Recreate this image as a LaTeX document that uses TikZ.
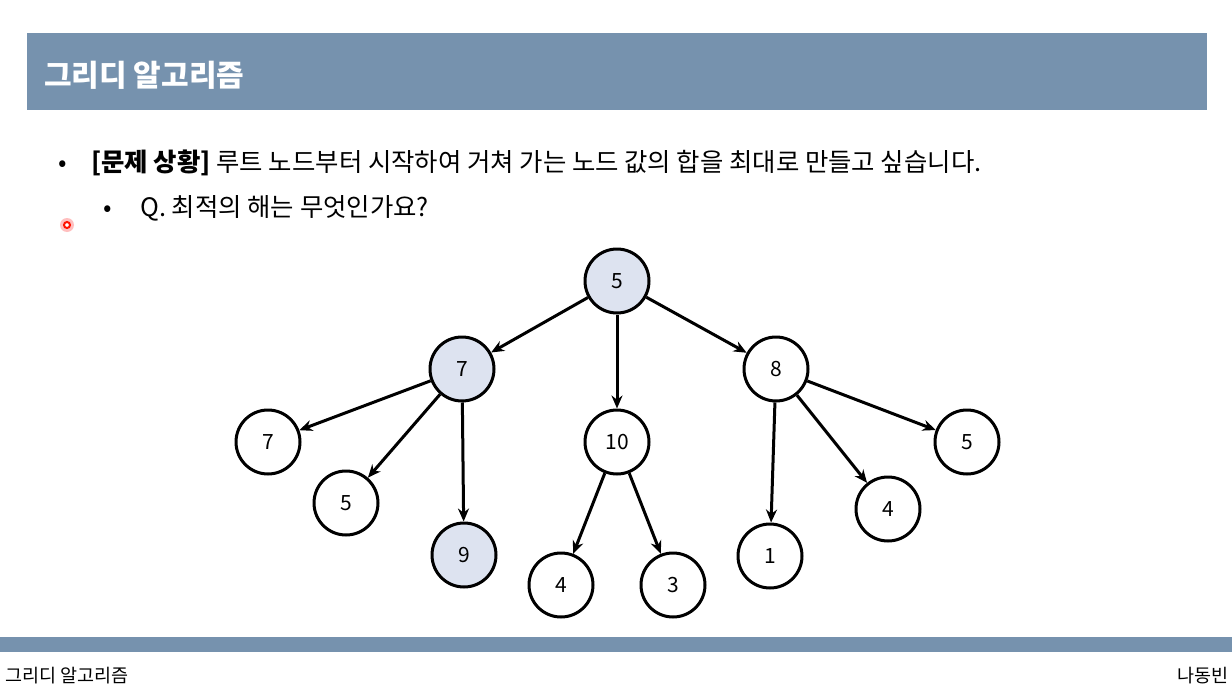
\documentclass[tikz,border=0pt]{standalone}
\usepackage{fontspec}
\setmainfont{Noto Sans CJK KR}
\usetikzlibrary{arrows.meta}
\definecolor{barblue}{HTML}{7692AE}
\definecolor{nodefill}{HTML}{DDE3F0}
\tikzset{
  tn/.style={circle,draw=black,line width=3pt,minimum size=64pt,inner sep=0pt,fill=white,font=\fontsize{21}{25}\selectfont},
  hl/.style={fill=nodefill},
  edge/.style={line width=3pt,-{Stealth[length=13pt,width=11pt]}},
  bul/.style={anchor=base,inner sep=0pt,font=\fontsize{25}{30}\selectfont},
  body/.style={anchor=base west,inner sep=0pt,font=\fontsize{25.4}{30}\selectfont}
}
\begin{document}
\begin{tikzpicture}[x=1pt,y=-1pt]
\useasboundingbox (0,0) rectangle (1232,696);
\fill[white] (0,0) rectangle (1232,696);
% header
\fill[barblue] (27,33) rectangle (1207,110);
\node[anchor=base west,text=white,font=\fontsize{30}{36}\selectfont\bfseries,inner sep=0pt] (title) at (44,86) {그리디 알고리즘};
% bullets
\node[bul] (b1) at (63,171) {•};
\node[body] (t1) at (91,171) {\textbf{[문제 상황]} 루트 노드부터 시작하여 거쳐 가는 노드 값의 합을 최대로 만들고 싶습니다.};
\node[bul] (b2) at (108,216) {•};
\node[body] (t2) at (140,216) {Q. 최적의 해는 무엇인가요?};
% pointer dot
\fill[red!25] (67,225) circle (7pt);
\draw[red!85!orange,line width=2pt,fill=white] (67,225) circle (3pt);
% nodes
\node[tn,hl] (r) at (617,281) {5};
\node[tn,hl] (a) at (462,369) {7};
\node[tn] (b) at (617,442) {10};
\node[tn] (c) at (776,369) {8};
\node[tn] (a1) at (268,442) {7};
\node[tn] (a2) at (346,503) {5};
\node[tn,hl] (a3) at (464,555) {9};
\node[tn] (b1n) at (561,585) {4};
\node[tn] (b2n) at (673,585) {3};
\node[tn] (c1) at (770,556) {1};
\node[tn] (c2) at (888,509) {4};
\node[tn] (c3) at (967,442) {5};
% edges
\draw[edge] (r) -- (a);
\draw[edge] (r) -- (b);
\draw[edge] (r) -- (c);
\draw[edge] (a) -- (a1);
\draw[edge] (a) -- (a2);
\draw[edge] (a) -- (a3);
\draw[edge] (b) -- (b1n);
\draw[edge] (b) -- (b2n);
\draw[edge] (c) -- (c1);
\draw[edge] (c) -- (c2);
\draw[edge] (c) -- (c3);
% footer
\fill[barblue] (0,637) rectangle (1232,652);
\node[anchor=base west,inner sep=0pt,font=\fontsize{18.5}{22}\selectfont] (f1) at (5,682) {그리디 알고리즘};
\node[anchor=base east,inner sep=0pt,font=\fontsize{18.5}{22}\selectfont] (f2) at (1229,682) {나동빈};
\end{tikzpicture}
\end{document}
